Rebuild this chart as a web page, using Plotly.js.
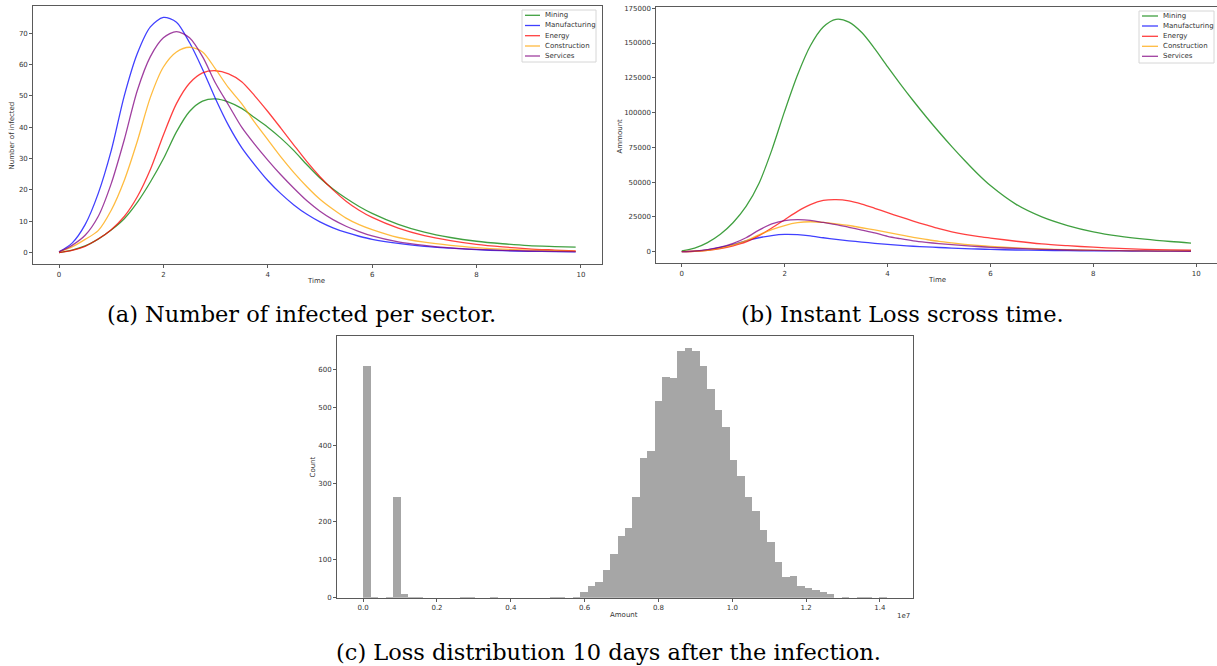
<!DOCTYPE html>
<html>
<head>
<meta charset="utf-8">
<script src="https://cdn.plot.ly/plotly-3.0.1.min.js"></script>
<style>html,body{margin:0;padding:0;background:#fff;}#chart{width:1217px;height:666px;}</style>
</head>
<body>
<div id="chart"></div>
<script>
// ---------- DATA ----------
const sectors = ["Mining", "Manufacturing", "Energy", "Construction", "Services"];
const sectorColors = ["#008000", "#0000ff", "#ff0000", "#ffa500", "#800080"];

const time = [0,0.25,0.5,0.75,1,1.25,1.5,1.75,2,2.25,2.5,2.75,3,3.25,3.5,3.75,4,4.25,4.5,4.75,5,5.25,5.5,5.75,6,6.5,7,7.5,8,8.5,9,9.5,9.9];

// (a) Number of infected per sector
const infectedMining        = [0,0.8,2.1,4.3,7.2,10.8,16,22.5,29.9,38.5,45,48.3,49,48,46,43,40,36.5,32.5,28,23.8,20.3,17.3,14.7,12.5,9,6.5,4.8,3.6,2.8,2.2,1.9,1.7];
const infectedManufacturing = [0.2,3,8.9,18.8,32.5,50,63.5,72,75,73.5,67,58.5,49,40.5,33.5,28,23,18.8,15.2,12.2,9.8,7.9,6.4,5.2,4.2,2.9,2,1.4,0.9,0.6,0.4,0.3,0.2];
const infectedEnergy        = [0,0.7,2,4.3,7.3,11.5,17.8,26.5,37.5,47.5,54,57.3,58,57,54.5,50,45,39.7,34.3,29,24.2,20,16.4,13.5,11.2,7.8,5.4,3.8,2.6,1.8,1.2,0.8,0.5];
const infectedConstruction  = [0.2,1.8,4.2,7,13.5,23,35.5,49.5,59.2,64,65.5,64,58.5,52.5,47.5,41.5,36,30.5,25.5,21,17,13.8,11,8.9,7.3,4.8,3.3,2.3,1.6,1.1,0.8,0.6,0.4];
const infectedServices      = [0.2,2.3,5.5,11.5,22,36,51.7,62.5,68.5,70.5,68.5,62.5,54,47,40,34.5,29.5,24.8,20.5,16.5,13.2,10.5,8.4,6.7,5.3,3.4,2.3,1.5,1,0.7,0.5,0.4,0.3];

// (b) Instant loss across time
const lossMining        = [500,2500,6500,12500,21000,32500,49000,73000,101000,127000,148000,161500,167000,165000,157500,146000,133000,120500,108500,97000,86000,75500,65500,56000,47500,34000,25000,18800,14300,11200,9000,7300,6200];
const lossManufacturing = [0,400,1300,3000,5200,7800,10000,11600,12400,12200,11300,10000,8800,7800,6900,6000,5200,4500,3900,3400,3000,2600,2200,1900,1600,1200,900,750,600,500,450,420,400];
const lossEnergy        = [0,300,900,2200,4200,7000,11500,17000,23000,29000,33800,36800,37400,36500,34200,31200,28000,25000,22000,19200,16500,14300,12500,11000,9800,7500,5600,4300,3200,2400,1700,1300,1000];
const lossConstruction  = [0,300,1000,2500,4800,8000,12000,15800,18800,20800,21500,21000,20000,18800,17200,15600,13800,12000,10300,8800,7400,6300,5300,4500,3800,2700,1900,1400,1000,800,600,550,500];
const lossServices      = [0,400,1400,3200,6000,10000,15500,20000,22300,23000,22500,21000,19500,17500,15500,13500,11000,9300,7800,6700,5800,5000,4300,3700,3100,2300,1700,1200,900,700,500,400,300];

// (c) Loss distribution histogram (70 bins)
const histBinStart = 0;
const histBinWidth = 202670;
const histCounts = [610,2,0,1,265,9,2,2,0,0,0,0,0,1,1,0,0,1,0,0,0,0,0,0,0,1,1,0,2,15,
                    30,41,73,114,163,182,265,367,386,517,581,579,648,656,650,610,548,494,449,362,
                    321,264,228,177,146,95,54,58,31,25,19,14,11,0,2,0,1,1,0,1];

const timeTicks = [0,2,4,6,8,10];
const infectedTicks = [0,10,20,30,40,50,60,70];
const lossTicks = [0,25000,50000,75000,100000,125000,150000,175000];
const amountTickVals = [0,2e6,4e6,6e6,8e6,1e7,1.2e7,1.4e7];
const amountTickText = ["0.0","0.2","0.4","0.6","0.8","1.0","1.2","1.4"];
const countTicks = [0,100,200,300,400,500,600];

const captions = ["(a) Number of infected per sector.", "(b) Instant Loss scross time.", "(c) Loss distribution 10 days after the infection."];

// ---------- CHART ----------
const W = 1217, H = 666;
const px = x => x / W;
const py = y => 1 - y / H;

const infectedSeries = [infectedMining, infectedManufacturing, infectedEnergy, infectedConstruction, infectedServices];
const lossSeries = [lossMining, lossManufacturing, lossEnergy, lossConstruction, lossServices];

const traces = [];
sectors.forEach((s, i) => {
  traces.push({x: time, y: infectedSeries[i], type: 'scatter', mode: 'lines', name: s,
    line: {color: sectorColors[i], width: 1.3, shape: 'spline', smoothing: 0.8}, opacity: 0.75,
    xaxis: 'x', yaxis: 'y', showlegend: false, hoverinfo: 'skip'});
});
sectors.forEach((s, i) => {
  traces.push({x: time, y: lossSeries[i], type: 'scatter', mode: 'lines', name: s,
    line: {color: sectorColors[i], width: 1.3, shape: 'spline', smoothing: 0.8}, opacity: 0.75,
    xaxis: 'x2', yaxis: 'y2', showlegend: false, hoverinfo: 'skip'});
});
traces.push({
  x: histCounts.map((c, i) => histBinStart + (i + 0.5) * histBinWidth),
  y: histCounts, width: histCounts.map(() => histBinWidth),
  type: 'bar', marker: {color: '#a6a6a6', line: {width: 0}},
  xaxis: 'x3', yaxis: 'y3', showlegend: false, hoverinfo: 'skip'
});

const tickFont = {family: 'DejaVu Sans, sans-serif', size: 7, color: '#333'};
const axBase = {showline: true, mirror: true, linecolor: '#5a5a5a', linewidth: 1,
  ticks: 'outside', ticklen: 3, tickwidth: 1, tickcolor: '#5a5a5a',
  showgrid: false, zeroline: false, tickfont: tickFont, fixedrange: true};

const layout = {
  width: W, height: H, margin: {l: 0, r: 0, t: 0, b: 0},
  paper_bgcolor: '#fff', plot_bgcolor: '#fff', bargap: 0,
  xaxis: Object.assign({}, axBase, {domain: [px(33.2), px(601.5)], range: [-0.495, 10.395], tickvals: timeTicks, anchor: 'y'}),
  yaxis: Object.assign({}, axBase, {domain: [py(264.3), py(5.7)], range: [-3.75, 78.75], tickvals: infectedTicks, anchor: 'x'}),
  xaxis2: Object.assign({}, axBase, {domain: [px(656.3), px(1216.5)], range: [-0.495, 10.395], tickvals: timeTicks, anchor: 'y2'}),
  yaxis2: Object.assign({}, axBase, {domain: [py(263.3), py(7.3)], range: [-8365, 175665], tickvals: lossTicks, tickformat: 'd', anchor: 'x2'}),
  xaxis3: Object.assign({}, axBase, {domain: [px(337), px(913)], range: [-0.0709e7, 1.4896e7], tickvals: amountTickVals, ticktext: amountTickText, anchor: 'y3'}),
  yaxis3: Object.assign({}, axBase, {domain: [py(597.7), py(335.7)], range: [0, 689], tickvals: countTicks, anchor: 'x3'}),
  shapes: [], annotations: []
};

const labFont = {family: 'DejaVu Sans, sans-serif', size: 7, color: '#333'};
function ann(text, x, y, opts) {
  layout.annotations.push(Object.assign({text: text, x: px(x), y: py(y), xref: 'paper', yref: 'paper',
    showarrow: false, font: labFont, xanchor: 'center', yanchor: 'middle'}, opts || {}));
}
ann('Time', 316, 281);
ann('Number of infected', 11.5, 136, {textangle: -90});
ann('Time', 937, 280);
ann('Ammount', 619.5, 136, {textangle: -90});
ann('Amount', 624, 615);
ann('Count', 312.5, 467, {textangle: -90});
ann('1e7', 903, 616);

// legends
function legend(x0, y0, x1, y1, lx0, lx1, tx, rows) {
  layout.shapes.push({type: 'rect', xref: 'paper', yref: 'paper', x0: px(x0), x1: px(x1), y0: py(y1), y1: py(y0),
    fillcolor: 'rgba(255,255,255,0.85)', line: {color: '#d6d6d6', width: 1}});
  sectors.forEach((s, i) => {
    layout.shapes.push({type: 'line', xref: 'paper', yref: 'paper', x0: px(lx0), x1: px(lx1), y0: py(rows[i]), y1: py(rows[i]),
      line: {color: sectorColors[i], width: 1.3}, opacity: 0.75});
    ann(s, tx, rows[i], {xanchor: 'left'});
  });
}
legend(522, 10, 596, 62, 525, 540, 543, [15.3, 25.5, 35.7, 46, 56]);
legend(1139, 11, 1214, 63, 1142, 1158, 1161, [16, 26, 36.3, 46.3, 56.3]);

// captions
const capFont = {family: 'DejaVu Serif, serif', size: 22.5, color: '#000'};
ann(captions[0], 301.5, 314, {font: capFont});
ann(captions[1], 902, 314, {font: capFont});
ann(captions[2], 608, 652, {font: capFont});

Plotly.newPlot('chart', traces, layout, {staticPlot: true, displayModeBar: false});
</script>
</body>
</html>
